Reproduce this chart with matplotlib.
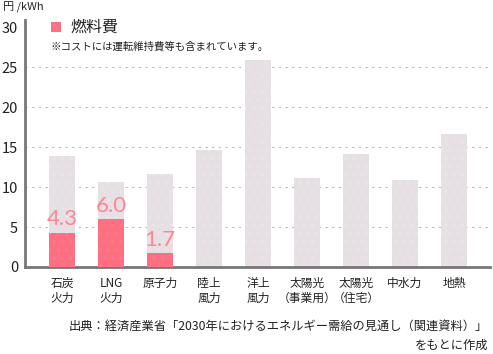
import matplotlib
matplotlib.use('Agg')
import matplotlib.pyplot as plt
from matplotlib.patches import Rectangle

plt.rcParams['font.family'] = ['Noto Sans CJK JP', 'DejaVu Sans']
plt.rcParams['hatch.linewidth'] = 0.5

categories = ['石炭\n火力', 'LNG\n火力', '原子力', '陸上\n風力', '洋上\n風力',
              '太陽光\n（事業用）', '太陽光\n（住宅）', '中水力', '地熱']
total_cost = [13.9, 10.6, 11.6, 14.6, 25.9, 11.1, 14.1, 10.9, 16.6]
fuel_cost = [4.3, 6.0, 1.7]
yticks = [0, 5, 10, 15, 20, 25, 30]

gray = '#e6e0e4'
pink = '#ff6f82'
label_pink = '#ff8595'

fig = plt.figure(figsize=(4.93, 3.54), dpi=100)
ax = fig.add_axes([25 / 493, 1 - 267 / 354, 465 / 493, 247 / 354])

x = list(range(len(categories)))
w = 0.53
ax.bar(x, total_cost, width=w, color=gray, edgecolor='#ece7ea', linewidth=0,
       hatch='..', zorder=2)
ax.bar(x[:len(fuel_cost)], fuel_cost, width=w, color=pink, edgecolor='#ff7d8e',
       linewidth=0, hatch='..', zorder=3)

for i, v in enumerate(fuel_cost):
    ax.text(i, v + 0.4, f'{v:.1f}', ha='center', va='bottom', color=label_pink,
            fontsize=16, family=['Lato', 'DejaVu Sans'], zorder=4)

ax.set_xlim(-0.755, 8.735)
ax.set_ylim(0, 30.9)
ax.set_yticks(yticks)
ax.set_yticklabels([str(t) for t in yticks], fontsize=10.5, color='#222222')
ax.yaxis.set_tick_params(length=0, pad=5)
ax.set_xticks(x)
ax.set_xticklabels(categories, fontsize=8.5, linespacing=1.25, color='#222222')
ax.xaxis.set_tick_params(length=0, pad=7)

for t in yticks[1:-1]:
    ax.axhline(t, color='#bbbbbb', linestyle=(0, (2, 4)), linewidth=0.8, zorder=1)

for s in ['top', 'right']:
    ax.spines[s].set_visible(False)
for s in ['left', 'bottom']:
    ax.spines[s].set_color('#777777')
    ax.spines[s].set_linewidth(2)

# legend
fig.patches.append(Rectangle((51 / 493, 1 - 32 / 354), 10 / 493, 10 / 354,
                             transform=fig.transFigure, facecolor=pink,
                             edgecolor='#ff7d8e', linewidth=0, hatch='..'))
fig.text(70 / 493, 1 - 27 / 354, '燃料費', fontsize=11.5, va='center', ha='left',
         color='#222222')
fig.text(51 / 493, 1 - 46 / 354, '※コストには運転維持費等も含まれています。',
         fontsize=7.5, va='center', ha='left', color='#222222')

fig.text(3 / 493, 1 - 7 / 354, '円 /kWh', fontsize=8, va='center', ha='left',
         color='#222222')

fig.text(488 / 493, 1 - 326 / 354,
         '出典：経済産業省「2030年におけるエネルギー需給の見通し（関連資料）」',
         fontsize=8.8, va='center', ha='right', color='#222222')
fig.text(488 / 493, 1 - 345 / 354, 'をもとに作成', fontsize=8.8, va='center',
         ha='right', color='#222222')

fig.savefig('out.png', dpi=100)
